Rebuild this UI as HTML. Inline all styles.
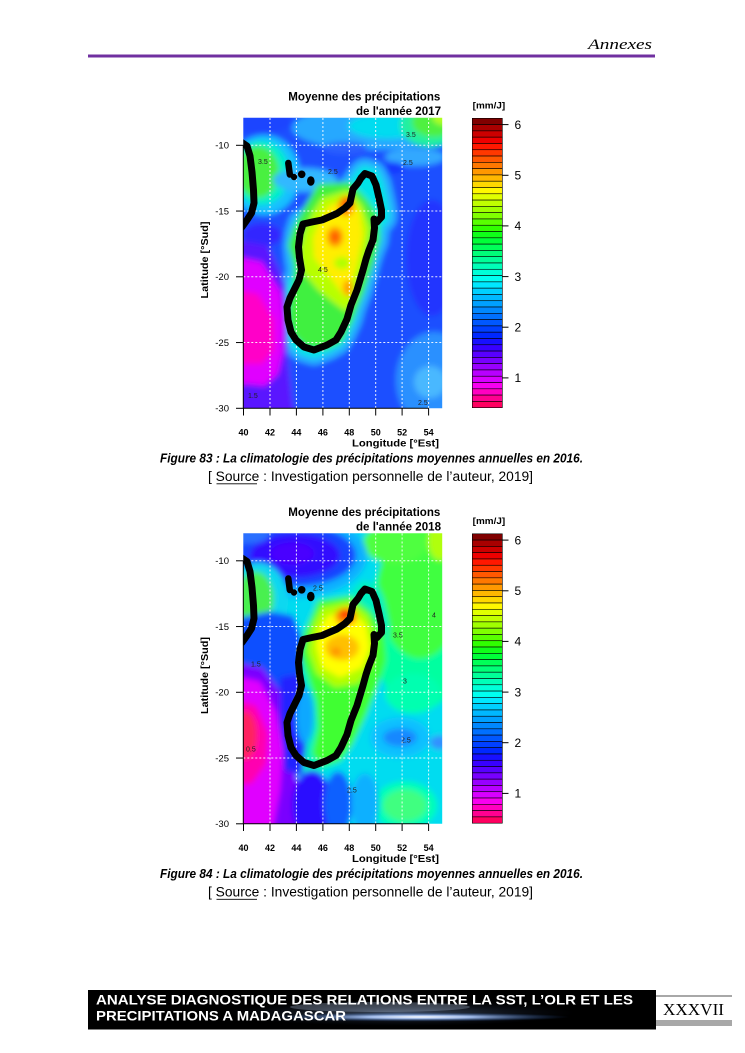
<!DOCTYPE html>
<html><head><meta charset="utf-8"><style>
html,body{margin:0;padding:0;background:#fff;}
svg{display:block;}
</style></head><body>
<svg xmlns="http://www.w3.org/2000/svg" xmlns:xlink="http://www.w3.org/1999/xlink" width="745" height="1053" viewBox="0 0 745 1053" font-family="Liberation Sans, Arial, sans-serif">
<defs>
  <clipPath id="plot" clipPathUnits="userSpaceOnUse"><rect x="243.3" y="117.7" width="198.9" height="290.6"/></clipPath>
  <filter id="bl" x="-20%" y="-20%" width="140%" height="140%"><feGaussianBlur stdDeviation="3"/></filter>
  <path id="mada" d="M365,173.5 L372,176 L376,185 L379,198 L381.5,210 L381.5,217 L377,222 L374,219 L374.5,228 L373,240 L369,250 L366,259 L363,270 L357,290 L351,305 L347,319 L341,332 L336,340 L327,345 L314,350 L304,347 L296,340 L291,332 L288,320 L287,307 L290,298 L294,290 L299,280 L301.5,270 L299.5,258 L298.5,247 L300,234 L303,224 L312,222 L322,220 L337,213.5 L345,208 L350,203 L353,189 L358,183 L361,178 Z"/>
  <radialGradient id="streak" cx="0.5" cy="0.5" r="0.5">
    <stop offset="0" stop-color="#ffffff" stop-opacity="1"/>
    <stop offset="0.35" stop-color="#b0ccff" stop-opacity="0.9"/>
    <stop offset="1" stop-color="#2050a0" stop-opacity="0"/>
  </radialGradient>
  <radialGradient id="glow" cx="0.5" cy="0.5" r="0.5">
    <stop offset="0" stop-color="#8aa8d8" stop-opacity="0.8"/>
    <stop offset="1" stop-color="#203050" stop-opacity="0"/>
  </radialGradient>

  <g id="common">
    <g stroke="#fff" stroke-width="1" stroke-dasharray="2,2" opacity="0.9">
      <line x1="270" y1="118" x2="270" y2="408"/>
      <line x1="296.4" y1="118" x2="296.4" y2="408"/>
      <line x1="322.9" y1="118" x2="322.9" y2="408"/>
      <line x1="349.3" y1="118" x2="349.3" y2="408"/>
      <line x1="375.7" y1="118" x2="375.7" y2="408"/>
      <line x1="402.1" y1="118" x2="402.1" y2="408"/>
      <line x1="428.6" y1="118" x2="428.6" y2="408"/>
      <line x1="243.3" y1="145.3" x2="442" y2="145.3"/>
      <line x1="243.3" y1="211.05" x2="442" y2="211.05"/>
      <line x1="243.3" y1="276.8" x2="442" y2="276.8"/>
      <line x1="243.3" y1="342.55" x2="442" y2="342.55"/>
    </g>
    <g clip-path="url(#plot)">
      <use xlink:href="#mada" fill="none" stroke="#000" stroke-width="7" stroke-linejoin="round"/>
      <path d="M241,142 L247,146 L250,156 L252,172 L253.5,190 L254,203 L251.5,213 L247,220 L242,227" fill="none" stroke="#000" stroke-width="7" stroke-linecap="round" stroke-linejoin="round"/>
      <line x1="288.3" y1="163" x2="289.8" y2="174.5" stroke="#000" stroke-width="6.5" stroke-linecap="round"/>
      <circle cx="294" cy="177" r="3.2"/>
      <circle cx="301.7" cy="174.3" r="3.8"/>
      <ellipse cx="310.8" cy="181" rx="3.8" ry="4.8"/>
    </g>
    <g stroke="#000" stroke-width="1" fill="none">
      <line x1="243.3" y1="145.3" x2="243.3" y2="408.3"/>
      <line x1="236" y1="145.3" x2="243.3" y2="145.3"/>
      <line x1="236" y1="211.05" x2="243.3" y2="211.05"/>
      <line x1="236" y1="276.8" x2="243.3" y2="276.8"/>
      <line x1="236" y1="342.55" x2="243.3" y2="342.55"/>
      <line x1="236" y1="408.3" x2="243.3" y2="408.3"/>
      <line x1="243.3" y1="408.3" x2="428.6" y2="408.3"/>
      <line x1="243.5" y1="408.3" x2="243.5" y2="415.5"/>
      <line x1="270" y1="408.3" x2="270" y2="415.5"/>
      <line x1="296.4" y1="408.3" x2="296.4" y2="415.5"/>
      <line x1="322.9" y1="408.3" x2="322.9" y2="415.5"/>
      <line x1="349.3" y1="408.3" x2="349.3" y2="415.5"/>
      <line x1="375.7" y1="408.3" x2="375.7" y2="415.5"/>
      <line x1="402.1" y1="408.3" x2="402.1" y2="415.5"/>
      <line x1="428.6" y1="408.3" x2="428.6" y2="415.5"/>
    </g>
    <g font-size="9.5" text-anchor="end" fill="#000">
      <text x="229" y="148.6">-10</text>
      <text x="229" y="214.4">-15</text>
      <text x="229" y="280.1">-20</text>
      <text x="229" y="345.9">-25</text>
      <text x="229" y="411.6">-30</text>
    </g>
    <g font-size="9" font-weight="bold" text-anchor="middle" fill="#000">
      <text x="243.5" y="435.7">40</text>
      <text x="270" y="435.7">42</text>
      <text x="296.4" y="435.7">44</text>
      <text x="322.9" y="435.7">46</text>
      <text x="349.3" y="435.7">48</text>
      <text x="375.7" y="435.7">50</text>
      <text x="402.1" y="435.7">52</text>
      <text x="428.6" y="435.7">54</text>
    </g>
    <text x="352" y="446.7" font-size="10.5" font-weight="bold" textLength="87" lengthAdjust="spacingAndGlyphs">Longitude [°Est]</text>
    <text transform="translate(208,260) rotate(-90)" text-anchor="middle" font-size="10.5" font-weight="bold" textLength="77" lengthAdjust="spacingAndGlyphs">Latitude [°Sud]</text>
    <text x="288.3" y="100.7" font-size="11.5" font-weight="bold" textLength="152" lengthAdjust="spacingAndGlyphs">Moyenne des précipitations</text>
    <text x="472.7" y="108.3" font-size="9.5" font-weight="bold" textLength="32.5" lengthAdjust="spacingAndGlyphs">[mm/J]</text>
    <g stroke="#000" stroke-width="0.6">
      <rect x="472.3" y="118.3" width="30" height="6.3" fill="#800000"/>
      <rect x="472.3" y="124.59" width="30" height="6.3" fill="#a80000"/>
      <rect x="472.3" y="130.88" width="30" height="6.3" fill="#cc0000"/>
      <rect x="472.3" y="137.17" width="30" height="6.3" fill="#ee0000"/>
      <rect x="472.3" y="143.46" width="30" height="6.3" fill="#ff1800"/>
      <rect x="472.3" y="149.76" width="30" height="6.3" fill="#ff3800"/>
      <rect x="472.3" y="156.05" width="30" height="6.3" fill="#ff5800"/>
      <rect x="472.3" y="162.34" width="30" height="6.3" fill="#ff7800"/>
      <rect x="472.3" y="168.63" width="30" height="6.3" fill="#ff9800"/>
      <rect x="472.3" y="174.92" width="30" height="6.3" fill="#ffb800"/>
      <rect x="472.3" y="181.21" width="30" height="6.3" fill="#ffd800"/>
      <rect x="472.3" y="187.50" width="30" height="6.3" fill="#fff800"/>
      <rect x="472.3" y="193.79" width="30" height="6.3" fill="#e0ff00"/>
      <rect x="472.3" y="200.08" width="30" height="6.3" fill="#c0ff00"/>
      <rect x="472.3" y="206.37" width="30" height="6.3" fill="#a0ff00"/>
      <rect x="472.3" y="212.67" width="30" height="6.3" fill="#80ff00"/>
      <rect x="472.3" y="218.96" width="30" height="6.3" fill="#58ff00"/>
      <rect x="472.3" y="225.25" width="30" height="6.3" fill="#30ff00"/>
      <rect x="472.3" y="231.54" width="30" height="6.3" fill="#10ff18"/>
      <rect x="472.3" y="237.83" width="30" height="6.3" fill="#00ff38"/>
      <rect x="472.3" y="244.12" width="30" height="6.3" fill="#00ff58"/>
      <rect x="472.3" y="250.41" width="30" height="6.3" fill="#00ff78"/>
      <rect x="472.3" y="256.70" width="30" height="6.3" fill="#00ff98"/>
      <rect x="472.3" y="262.99" width="30" height="6.3" fill="#00ffb8"/>
      <rect x="472.3" y="269.28" width="30" height="6.3" fill="#00ffd8"/>
      <rect x="472.3" y="275.58" width="30" height="6.3" fill="#00fff0"/>
      <rect x="472.3" y="281.87" width="30" height="6.3" fill="#00e8ff"/>
      <rect x="472.3" y="288.16" width="30" height="6.3" fill="#00d0ff"/>
      <rect x="472.3" y="294.45" width="30" height="6.3" fill="#00b8ff"/>
      <rect x="472.3" y="300.74" width="30" height="6.3" fill="#00a0ff"/>
      <rect x="472.3" y="307.03" width="30" height="6.3" fill="#0088ff"/>
      <rect x="472.3" y="313.32" width="30" height="6.3" fill="#0070ff"/>
      <rect x="472.3" y="319.61" width="30" height="6.3" fill="#0058ff"/>
      <rect x="472.3" y="325.90" width="30" height="6.3" fill="#0040ff"/>
      <rect x="472.3" y="332.19" width="30" height="6.3" fill="#0028ff"/>
      <rect x="472.3" y="338.49" width="30" height="6.3" fill="#1810ff"/>
      <rect x="472.3" y="344.78" width="30" height="6.3" fill="#3800ff"/>
      <rect x="472.3" y="351.07" width="30" height="6.3" fill="#5800ff"/>
      <rect x="472.3" y="357.36" width="30" height="6.3" fill="#7800ff"/>
      <rect x="472.3" y="363.65" width="30" height="6.3" fill="#9800ff"/>
      <rect x="472.3" y="369.94" width="30" height="6.3" fill="#b800ff"/>
      <rect x="472.3" y="376.23" width="30" height="6.3" fill="#d800ff"/>
      <rect x="472.3" y="382.52" width="30" height="6.3" fill="#f800f0"/>
      <rect x="472.3" y="388.81" width="30" height="6.3" fill="#ff00c0"/>
      <rect x="472.3" y="395.10" width="30" height="6.3" fill="#ff0090"/>
      <rect x="472.3" y="401.40" width="30" height="6.3" fill="#ff0060"/>
    </g>
    <g stroke="#000" stroke-width="1">
      <line x1="502.3" y1="124.6" x2="508.5" y2="124.6"/>
      <line x1="502.3" y1="175.3" x2="508.5" y2="175.3"/>
      <line x1="502.3" y1="225.9" x2="508.5" y2="225.9"/>
      <line x1="502.3" y1="276.6" x2="508.5" y2="276.6"/>
      <line x1="502.3" y1="327.2" x2="508.5" y2="327.2"/>
      <line x1="502.3" y1="377.9" x2="508.5" y2="377.9"/>
    </g>
    <g font-size="12" fill="#000">
      <text x="514.5" y="128.9">6</text>
      <text x="514.5" y="179.6">5</text>
      <text x="514.5" y="230.2">4</text>
      <text x="514.5" y="280.9">3</text>
      <text x="514.5" y="331.5">2</text>
      <text x="514.5" y="382.2">1</text>
    </g>
  </g>
</defs>

<rect width="745" height="1053" fill="#fff"/>

<text x="588" y="49" font-family="Liberation Serif, serif" font-style="italic" font-size="15" textLength="64" lengthAdjust="spacingAndGlyphs">Annexes</text>
<rect x="88" y="54.5" width="567" height="3" fill="#7030a0"/>

<!-- ===== Chart 1 (2017) ===== -->
<g clip-path="url(#plot)">
  <g filter="url(#bl)">
    <rect x="225" y="100" width="235" height="325" fill="#1e50ff"/>
    <ellipse cx="432" cy="258" rx="26" ry="58" fill="#2034ff"/>
    <ellipse cx="372" cy="128" rx="80" ry="22" fill="#28a8ff"/>
    <ellipse cx="388" cy="126" rx="40" ry="13" fill="#00dcf0"/>
    <ellipse cx="430" cy="125" rx="30" ry="22" fill="#20f0a0"/>
    <ellipse cx="434" cy="122" rx="22" ry="15" fill="#50f040"/>
    <ellipse cx="444" cy="116" rx="12" ry="9" fill="#b0ff20"/>
    <ellipse cx="345" cy="148" rx="22" ry="6" fill="#2a60ff"/>
    <ellipse cx="415" cy="157" rx="30" ry="9" fill="#30a8ff"/>
    <ellipse cx="392" cy="168" rx="12" ry="6" fill="#1838ff"/>
    <ellipse cx="262" cy="122" rx="30" ry="12" fill="#1a44ff"/>
    <ellipse cx="264" cy="175" rx="36" ry="40" fill="#18c0ff"/>
    <ellipse cx="261" cy="173" rx="28" ry="32" fill="#00f0c8"/>
    <ellipse cx="258" cy="172" rx="21" ry="26" fill="#48f040"/>
    <ellipse cx="305" cy="180" rx="32" ry="12" fill="#30b8ff"/>
    <ellipse cx="434" cy="380" rx="38" ry="48" fill="#2a90ff"/>
    <ellipse cx="430" cy="382" rx="16" ry="16" fill="#48b8ff"/>
    <use xlink:href="#mada" fill="#28b0ff" stroke="#28b0ff" stroke-width="30" stroke-linejoin="round"/>
    <use xlink:href="#mada" fill="#00e4e8" stroke="#00e4e8" stroke-width="16" stroke-linejoin="round"/>
    <ellipse cx="262" cy="235" rx="20" ry="12" fill="#3028ff"/>
    <path d="M225,238 L268,246 L286,285 L288,320 L288,360 L292,400 L296,420 L225,420 Z" fill="#5a18ff"/>
    <path d="M225,254 L262,262 L281,292 L284,322 L283,352 L278,374 L265,386 L245,384 L225,388 Z" fill="#e000ff"/>
    <path d="M225,288 L258,294 L274,320 L274,350 L262,364 L225,364 Z" fill="#ff00c8"/>
    <path d="M318,184 L350,182 L366,198 L378,215 L380,240 L374,262 L364,292 L352,322 L342,342 L325,350 L305,347 L293,335 L288,318 L289,300 L293,286 L294,265 L288,245 L293,228 L305,206 Z" fill="#40f040"/>
    <path d="M322,198 L348,190 L362,205 L370,228 L367,252 L360,278 L354,300 L346,312 L334,303 L318,290 L303,272 L300,252 L304,232 L313,212 Z" fill="#b8ff00"/>
    <path d="M328,206 L350,198 L360,212 L363,235 L358,258 L352,282 L346,298 L338,288 L326,272 L314,258 L313,238 L320,220 Z" fill="#ffee00"/>
    <ellipse cx="342" cy="263" rx="8" ry="6" fill="#b0ff00"/>
    <ellipse cx="335" cy="237" rx="8" ry="10" fill="#ff9000"/>
    <ellipse cx="335" cy="237" rx="4" ry="5" fill="#ff5000"/>
    <ellipse cx="346" cy="206" rx="8" ry="10" fill="#ff8800"/>
    <ellipse cx="348" cy="203" rx="4" ry="5" fill="#ff3000"/>
    <ellipse cx="348" cy="288" rx="5" ry="8" fill="#ffa000"/>
  </g>
  <g font-size="7" fill="#222">
    <text x="258" y="164">3.5</text>
    <text x="328" y="174">2.5</text>
    <text x="406" y="137">3.5</text>
    <text x="403" y="165">2.5</text>
    <text x="318" y="272">4.5</text>
    <text x="248" y="398">1.5</text>
    <text x="418" y="405">2.5</text>
  </g>
</g>
<use xlink:href="#common"/>
<text x="356" y="115" font-size="11.5" font-weight="bold" textLength="85" lengthAdjust="spacingAndGlyphs">de l'année 2017</text>

<text x="160" y="462.5" font-size="12.5" font-weight="bold" font-style="italic" textLength="423" lengthAdjust="spacingAndGlyphs">Figure 83 : La climatologie des précipitations moyennes annuelles en 2016.</text>
<text x="208" y="481" font-size="13.5" textLength="325" lengthAdjust="spacingAndGlyphs">[ Source : Investigation personnelle de l’auteur, 2019]</text>
<line x1="216.5" y1="483.8" x2="257" y2="483.8" stroke="#000" stroke-width="0.9"/>

<!-- ===== Chart 2 (2018) ===== -->
<g transform="translate(0,415.5)">
  <g clip-path="url(#plot)">
    <g filter="url(#bl)">
      <rect x="225" y="100" width="235" height="325" fill="#00dcf0"/>
      <ellipse cx="420" cy="205" rx="50" ry="90" fill="#00ffa0"/>
      <ellipse cx="420" cy="175" rx="42" ry="68" fill="#40ff40"/>
      <ellipse cx="395" cy="128" rx="32" ry="20" fill="#50ff40"/>
      <ellipse cx="440" cy="125" rx="12" ry="20" fill="#b0ff10"/>
      <ellipse cx="295" cy="140" rx="72" ry="42" fill="#10b0ff"/>
      <ellipse cx="296" cy="140" rx="60" ry="31" fill="#1844ff"/>
      <ellipse cx="295" cy="140" rx="45" ry="22" fill="#3010ff"/>
      <ellipse cx="292" cy="138" rx="22" ry="11" fill="#4a00ff"/>
      <ellipse cx="250" cy="118" rx="20" ry="10" fill="#2a70ff"/>
      <ellipse cx="258" cy="185" rx="30" ry="38" fill="#10d8f0"/>
      <ellipse cx="255" cy="183" rx="19" ry="27" fill="#48f050"/>
      <ellipse cx="400" cy="322" rx="30" ry="20" fill="#10c0ff"/>
      <ellipse cx="400" cy="322" rx="17" ry="9" fill="#1888ff"/>
      <ellipse cx="440" cy="327" rx="10" ry="7" fill="#3090ff"/>
      <ellipse cx="413" cy="278" rx="28" ry="20" fill="#00ffb0"/>
      <ellipse cx="405" cy="390" rx="32" ry="24" fill="#00ffb8"/>
      <ellipse cx="405" cy="390" rx="22" ry="16" fill="#40ff80"/>
      <use xlink:href="#mada" fill="#00f0c0" stroke="#00f0c0" stroke-width="16" stroke-linejoin="round"/>
      <path d="M225,205 L270,196 L293,200 L303,225 L300,262 L290,300 L280,330 L260,290 L225,272 Z" fill="#1050ff"/>
      <path d="M225,245 L262,252 L282,278 L290,310 L296,350 L300,385 L310,420 L225,420 Z" fill="#7a00ff"/>
      <path d="M225,258 L260,266 L276,296 L283,335 L280,375 L272,420 L225,420 Z" fill="#e000ff"/>
      <path d="M225,282 L256,290 L268,318 L266,348 L252,368 L225,370 Z" fill="#ff00b0"/>
      <ellipse cx="245" cy="320" rx="12" ry="24" fill="#ff2060"/>
      <path d="M280,262 L300,258 L310,290 L306,330 L302,360 L285,355 L280,310 Z" fill="#2020ff"/>
      <ellipse cx="312" cy="390" rx="20" ry="35" fill="#2a10ff"/>
      <ellipse cx="338" cy="388" rx="14" ry="32" fill="#1060ff"/>
      <ellipse cx="365" cy="388" rx="14" ry="30" fill="#10b0ff"/>
      <path d="M318,185 L350,180 L370,195 L384,215 L386,245 L378,270 L366,300 L352,330 L340,345 L322,350 L312,338 L318,312 L316,285 L308,260 L300,238 L305,215 Z" fill="#40ff30"/>
      <ellipse cx="305" cy="300" rx="9" ry="28" fill="#10a8ff"/>
      <path d="M322,192 L350,186 L368,200 L376,225 L372,250 L358,268 L335,272 L316,258 L308,235 L313,210 Z" fill="#b0ff00"/>
      <path d="M328,200 L352,195 L366,210 L370,232 L362,252 L340,262 L322,252 L316,230 L320,212 Z" fill="#ffff00"/>
      <ellipse cx="342" cy="232" rx="17" ry="13" fill="#ffc000"/>
      <ellipse cx="336" cy="236" rx="5" ry="4" fill="#ff9000"/>
      <ellipse cx="346" cy="201" rx="11" ry="9" fill="#ff9000"/>
      <ellipse cx="345" cy="199" rx="5" ry="4" fill="#ff2000"/>
    </g>
    <g font-size="7" fill="#222">
      <text x="313" y="175">2.5</text>
      <text x="393" y="222">3.5</text>
      <text x="432" y="202">4</text>
      <text x="251" y="251">1.5</text>
      <text x="246" y="336">0.5</text>
      <text x="401" y="327">2.5</text>
      <text x="403" y="268">3</text>
      <text x="347" y="377">2.5</text>
    </g>
  </g>
  <use xlink:href="#common"/>
  <text x="356" y="115" font-size="11.5" font-weight="bold" textLength="85" lengthAdjust="spacingAndGlyphs">de l'année 2018</text>
  <text x="160" y="462.5" font-size="12.5" font-weight="bold" font-style="italic" textLength="423" lengthAdjust="spacingAndGlyphs">Figure 84 : La climatologie des précipitations moyennes annuelles en 2016.</text>
  <text x="208" y="481" font-size="13.5" textLength="325" lengthAdjust="spacingAndGlyphs">[ Source : Investigation personnelle de l’auteur, 2019]</text>
  <line x1="216.5" y1="483.8" x2="257" y2="483.8" stroke="#000" stroke-width="0.9"/>
</g>

<!-- Footer -->
<rect x="88" y="990" width="568" height="39.5" fill="#000"/>
<ellipse cx="400" cy="1013" rx="175" ry="13" fill="url(#glow)" opacity="0.6"/>
<ellipse cx="380" cy="1007" rx="90" ry="5" fill="#9aa8c0" opacity="0.35"/>
<ellipse cx="420" cy="1017" rx="150" ry="4.5" fill="url(#streak)"/>
<g fill="#fff" font-weight="bold" font-size="14">
  <text x="96" y="1004.5" textLength="537" lengthAdjust="spacingAndGlyphs">ANALYSE DIAGNOSTIQUE DES RELATIONS ENTRE LA SST, L’OLR ET LES</text>
  <text x="96" y="1020.5" textLength="250" lengthAdjust="spacingAndGlyphs">PRECIPITATIONS A MADAGASCAR</text>
</g>
<rect x="656" y="995" width="76" height="2" fill="#a8a8a8"/>
<rect x="656" y="1020" width="76" height="6" fill="#a8a8a8"/>
<text x="663" y="1015" font-family="Liberation Serif, serif" font-size="17" textLength="61" lengthAdjust="spacingAndGlyphs">XXXVII</text>
</svg>
</body></html>
